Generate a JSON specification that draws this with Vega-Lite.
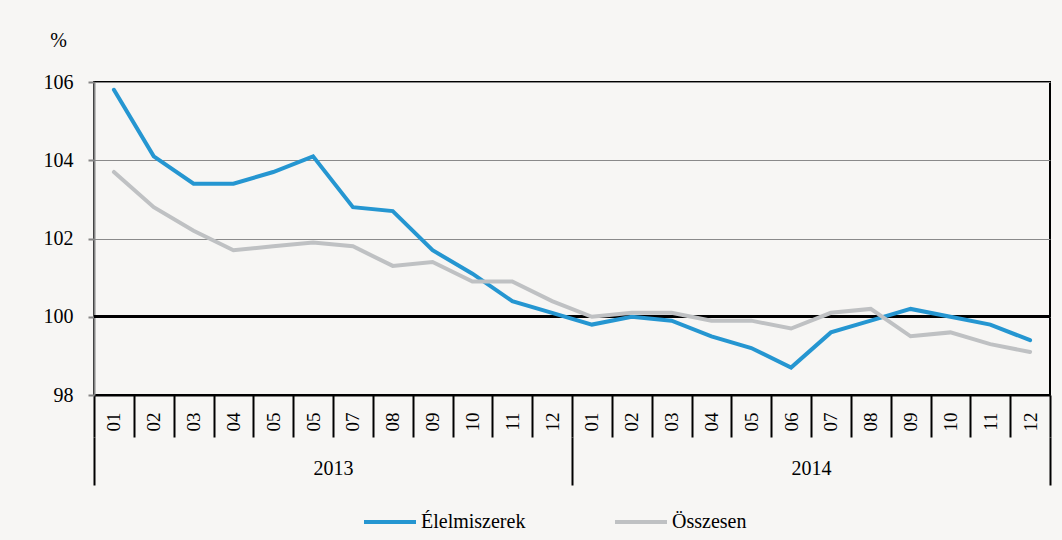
{
  "$schema": "https://vega.github.io/schema/vega-lite/v6.json",
  "width": 956,
  "height": 313,
  "autosize": "none",
  "padding": {"left": 94, "top": 82, "right": 12, "bottom": 145},
  "background": "#F7F6F4",
  "config": {
    "font": "Liberation Serif, serif",
    "view": {"stroke": "#000000", "strokeWidth": 2},
    "axis": {"labelFont": "Liberation Serif, serif", "titleFont": "Liberation Serif, serif", "labelColor": "#000000", "titleColor": "#000000"},
    "legend": {"labelFont": "Liberation Serif, serif"}
  },
  "data": {
    "values": [
      {"k": "2013-01", "yr": "2013", "s": "Élelmiszerek", "v": 105.8},
      {"k": "2013-02", "yr": "2013", "s": "Élelmiszerek", "v": 104.1},
      {"k": "2013-03", "yr": "2013", "s": "Élelmiszerek", "v": 103.4},
      {"k": "2013-04", "yr": "2013", "s": "Élelmiszerek", "v": 103.4},
      {"k": "2013-05", "yr": "2013", "s": "Élelmiszerek", "v": 103.7},
      {"k": "2013-05b", "yr": "2013", "s": "Élelmiszerek", "v": 104.1},
      {"k": "2013-07", "yr": "2013", "s": "Élelmiszerek", "v": 102.8},
      {"k": "2013-08", "yr": "2013", "s": "Élelmiszerek", "v": 102.7},
      {"k": "2013-09", "yr": "2013", "s": "Élelmiszerek", "v": 101.7},
      {"k": "2013-10", "yr": "2013", "s": "Élelmiszerek", "v": 101.1},
      {"k": "2013-11", "yr": "2013", "s": "Élelmiszerek", "v": 100.4},
      {"k": "2013-12", "yr": "2013", "s": "Élelmiszerek", "v": 100.1},
      {"k": "2014-01", "yr": "2014", "s": "Élelmiszerek", "v": 99.8},
      {"k": "2014-02", "yr": "2014", "s": "Élelmiszerek", "v": 100.0},
      {"k": "2014-03", "yr": "2014", "s": "Élelmiszerek", "v": 99.9},
      {"k": "2014-04", "yr": "2014", "s": "Élelmiszerek", "v": 99.5},
      {"k": "2014-05", "yr": "2014", "s": "Élelmiszerek", "v": 99.2},
      {"k": "2014-06", "yr": "2014", "s": "Élelmiszerek", "v": 98.7},
      {"k": "2014-07", "yr": "2014", "s": "Élelmiszerek", "v": 99.6},
      {"k": "2014-08", "yr": "2014", "s": "Élelmiszerek", "v": 99.9},
      {"k": "2014-09", "yr": "2014", "s": "Élelmiszerek", "v": 100.2},
      {"k": "2014-10", "yr": "2014", "s": "Élelmiszerek", "v": 100.0},
      {"k": "2014-11", "yr": "2014", "s": "Élelmiszerek", "v": 99.8},
      {"k": "2014-12", "yr": "2014", "s": "Élelmiszerek", "v": 99.4},
      {"k": "2013-01", "yr": "2013", "s": "Összesen", "v": 103.7},
      {"k": "2013-02", "yr": "2013", "s": "Összesen", "v": 102.8},
      {"k": "2013-03", "yr": "2013", "s": "Összesen", "v": 102.2},
      {"k": "2013-04", "yr": "2013", "s": "Összesen", "v": 101.7},
      {"k": "2013-05", "yr": "2013", "s": "Összesen", "v": 101.8},
      {"k": "2013-05b", "yr": "2013", "s": "Összesen", "v": 101.9},
      {"k": "2013-07", "yr": "2013", "s": "Összesen", "v": 101.8},
      {"k": "2013-08", "yr": "2013", "s": "Összesen", "v": 101.3},
      {"k": "2013-09", "yr": "2013", "s": "Összesen", "v": 101.4},
      {"k": "2013-10", "yr": "2013", "s": "Összesen", "v": 100.9},
      {"k": "2013-11", "yr": "2013", "s": "Összesen", "v": 100.9},
      {"k": "2013-12", "yr": "2013", "s": "Összesen", "v": 100.4},
      {"k": "2014-01", "yr": "2014", "s": "Összesen", "v": 100.0},
      {"k": "2014-02", "yr": "2014", "s": "Összesen", "v": 100.1},
      {"k": "2014-03", "yr": "2014", "s": "Összesen", "v": 100.1},
      {"k": "2014-04", "yr": "2014", "s": "Összesen", "v": 99.9},
      {"k": "2014-05", "yr": "2014", "s": "Összesen", "v": 99.9},
      {"k": "2014-06", "yr": "2014", "s": "Összesen", "v": 99.7},
      {"k": "2014-07", "yr": "2014", "s": "Összesen", "v": 100.1},
      {"k": "2014-08", "yr": "2014", "s": "Összesen", "v": 100.2},
      {"k": "2014-09", "yr": "2014", "s": "Összesen", "v": 99.5},
      {"k": "2014-10", "yr": "2014", "s": "Összesen", "v": 99.6},
      {"k": "2014-11", "yr": "2014", "s": "Összesen", "v": 99.3},
      {"k": "2014-12", "yr": "2014", "s": "Összesen", "v": 99.1}
    ]
  },
  "layer": [
    {
      "mark": {"type": "point", "opacity": 0},
      "encoding": {
        "x": {
          "field": "yr", "type": "ordinal", "sort": null,
          "scale": {"paddingInner": 0, "paddingOuter": 0},
          "axis": {
            "orient": "bottom",
            "title": null, "domain": false, "offset": 42,
            "tickBand": "extent", "tickSize": 48, "tickWidth": 2, "tickColor": "#000000",
            "labelAngle": 0, "labelFontSize": 20, "labelPadding": -27, "labelBaseline": "top"
          }
        },
        "y": {"field": "v", "type": "quantitative"}
      }
    },
    {
      "mark": {"type": "rule", "color": "#000000", "strokeWidth": 2},
      "encoding": {"y": {"datum": 100}}
    },
    {
      "mark": {"type": "line", "strokeWidth": 4, "strokeCap": "round"},
      "encoding": {
        "x": {
          "field": "k", "type": "ordinal", "sort": null,
          "scale": {"paddingInner": 0, "paddingOuter": 0},
          "axis": {
            "orient": "bottom",
            "title": null, "domainColor": "#000000", "domainWidth": 2,
            "tickBand": "extent", "tickSize": 42, "tickWidth": 2, "tickColor": "#000000",
            "labelAngle": -90, "labelFontSize": 19, "labelPadding": -25,
            "labelExpr": "substring(datum.label, 5, 7)"
          }
        },
        "y": {
          "field": "v", "type": "quantitative",
          "scale": {"domain": [98, 106], "nice": false, "zero": false},
          "axis": {
            "values": [98, 100, 102, 104, 106],
            "title": "%", "titleAngle": 0, "titleX": -36, "titleY": -42,
            "titleAlign": "center", "titleBaseline": "middle", "titleFontSize": 20, "titleFontWeight": "normal",
            "labelFontSize": 20, "labelPadding": 15,
            "domainColor": "#868686", "domainWidth": 2,
            "tickColor": "#868686", "tickSize": 6, "tickWidth": 2,
            "grid": true, "gridColor": "#8A8A8A", "gridWidth": 1
          }
        },
        "color": {
          "field": "s", "type": "nominal",
          "scale": {"domain": ["Élelmiszerek", "Összesen"], "range": ["#2596D1", "#BFC1C3"]},
          "legend": {
            "title": null, "orient": "none", "direction": "horizontal",
            "legendX": 268, "legendY": 412,
            "symbolType": "stroke", "symbolSize": 2704, "symbolStrokeWidth": 4,
            "labelFontSize": 20, "labelColor": "#000000", "labelOffset": 3, "columnPadding": 81
          }
        }
      }
    }
  ],
  "resolve": {"scale": {"x": "independent"}, "axis": {"x": "independent"}}
}
